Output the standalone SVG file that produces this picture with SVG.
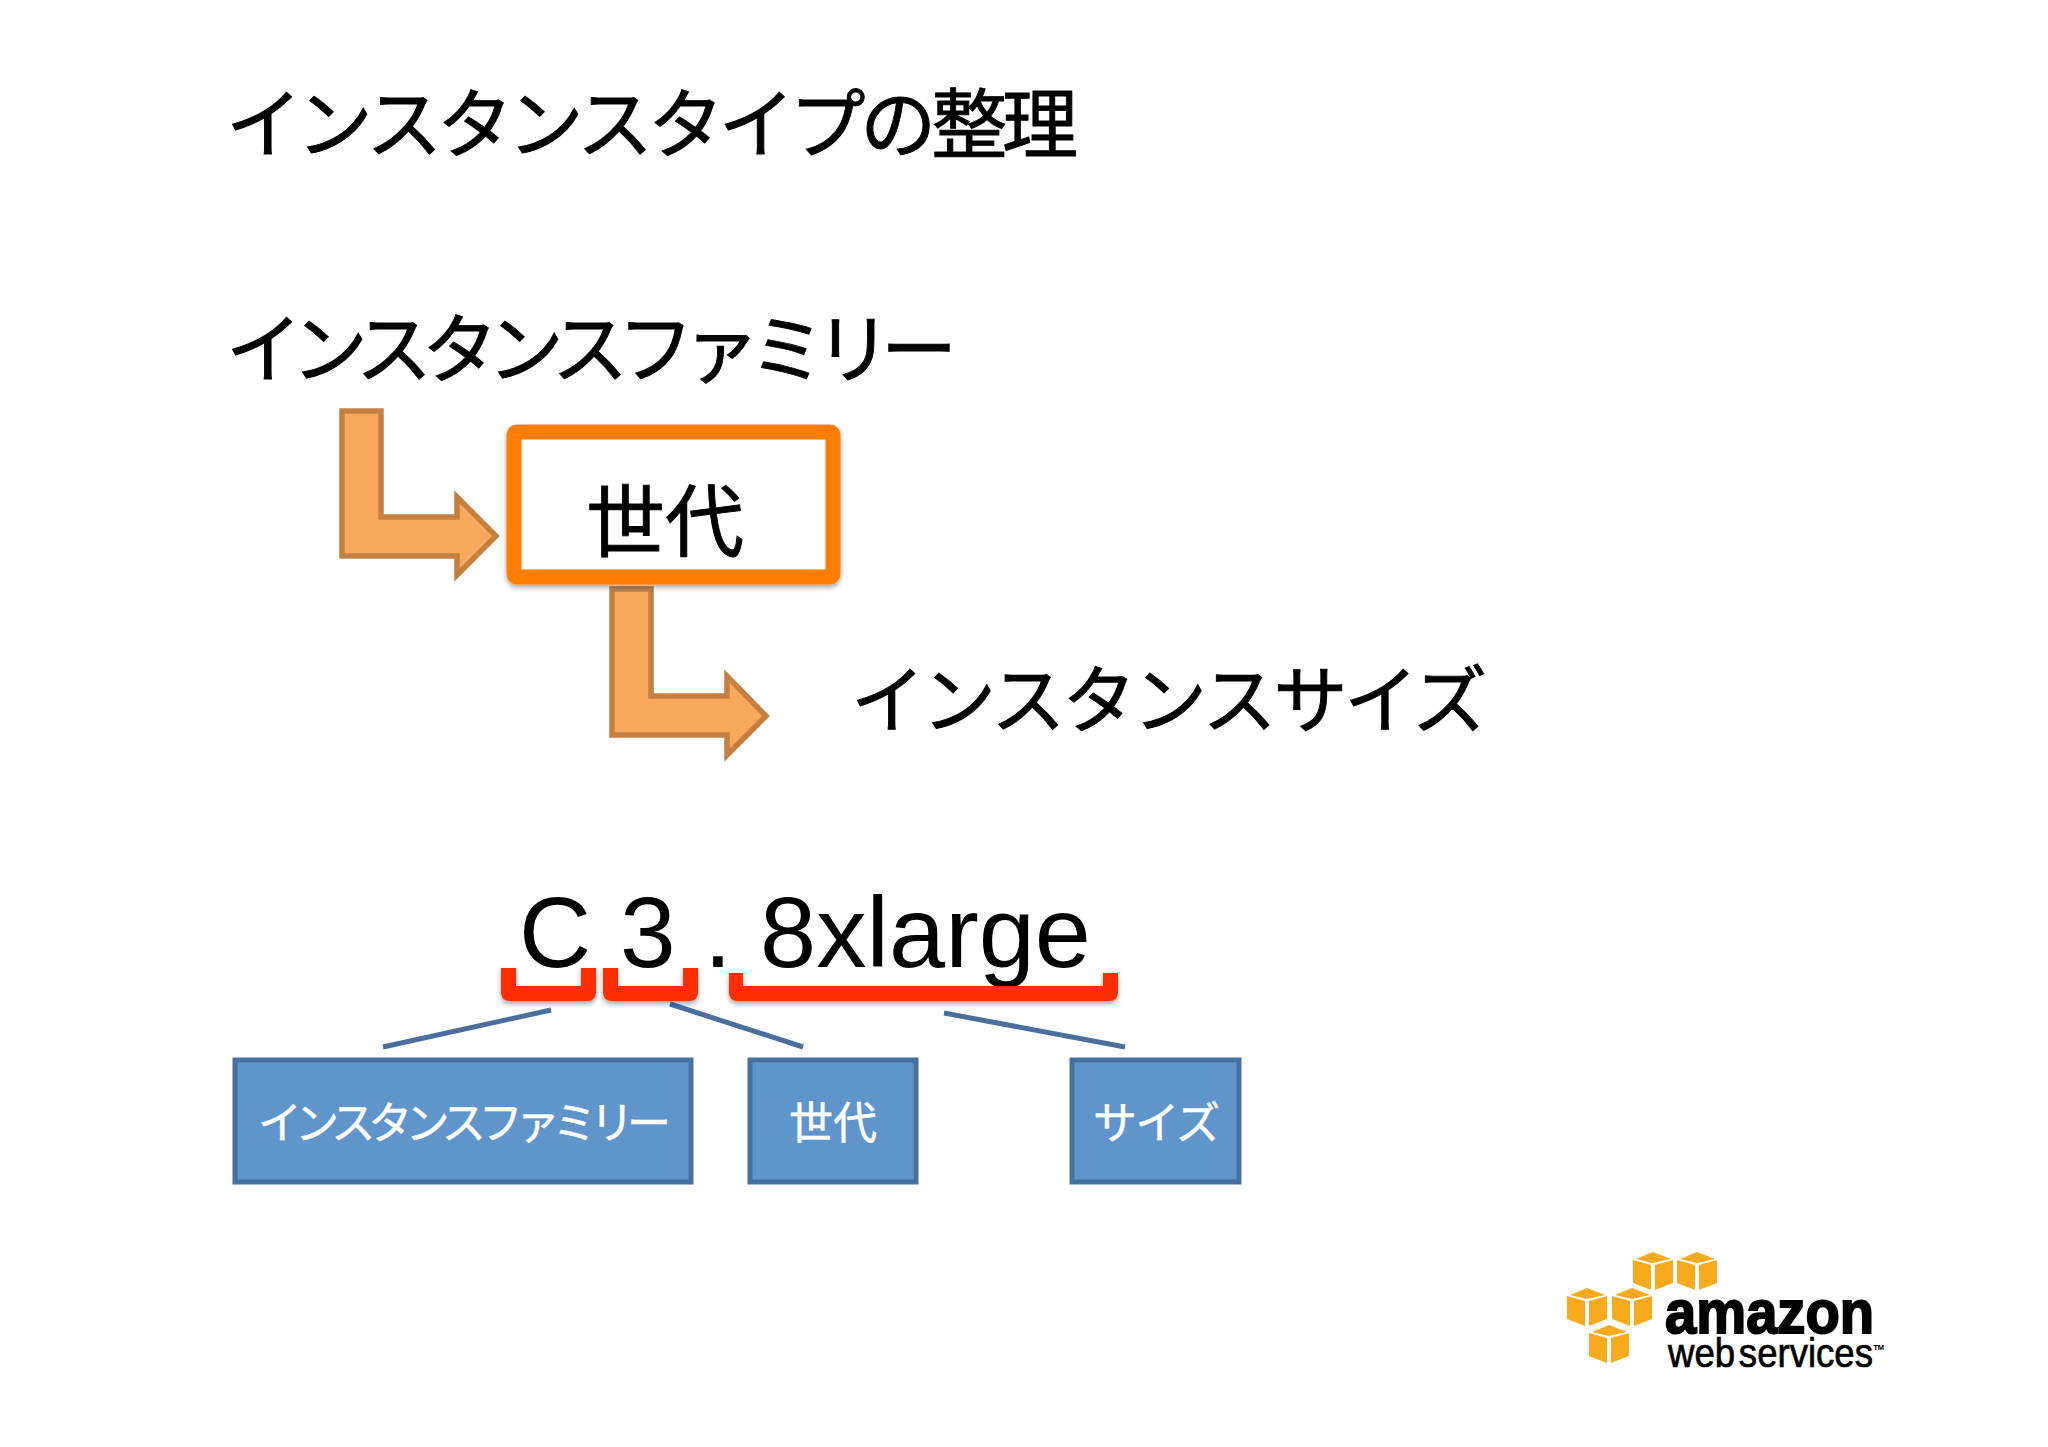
<svg xmlns="http://www.w3.org/2000/svg" xmlns:xlink="http://www.w3.org/1999/xlink" width="2048" height="1447" viewBox="0 0 2048 1447">
<style>
.jp{font-family:"Noto Sans CJK JP","Noto Sans CJK SC",sans-serif;fill:#000;stroke:#000;stroke-width:0.9}
.lat{font-family:"Liberation Sans",Arial,sans-serif;fill:#000;font-size:100px}
.arrow{fill:#f9a95b;stroke:#c58041;stroke-width:5.5}
.box{fill:#6095cb;stroke:#45709f;stroke-width:5}
.boxt{font-family:"Noto Sans CJK JP","Noto Sans CJK SC",sans-serif;fill:#fff;stroke:#fff;stroke-width:0.5;font-size:44px}
.br{fill:#ff2d06}
.ln{stroke:#4a6f9f;stroke-width:5;fill:none}
.cube{fill:#f7ab1c}
</style>
<defs>
<filter id="sh" x="-10%" y="-20%" width="120%" height="140%"><feDropShadow dx="0" dy="3" stdDeviation="2.5" flood-color="#000" flood-opacity="0.35"/></filter>
<g id="c"><polygon class="cube" points="20,0 38,7 20,11 3,7"/><polygon class="cube" points="0,8 18,13 18,38 0,31"/><polygon class="cube" points="22,13 40,8 40,31 22,38"/></g>
</defs>
<rect width="2048" height="1447" fill="#fff"/>
<g id="title"><text class="jp" x="226" y="152" font-size="76" textLength="852">インスタンスタイプの整理</text></g>
<g id="family"><text class="jp" x="226" y="377" font-size="76" textLength="731">インスタンスファミリー</text></g>
<g id="connectors">
<polygon class="arrow" points="342,411 381,411 381,517 457,517 457,497 496,536 457,575 457,556 342,556"/>
<polygon class="arrow" points="612,589 651,589 651,696 727,696 727,676 766,716 727,755 727,735 612,735"/>
<line class="ln" x1="551" y1="1010" x2="383" y2="1047"/>
<line class="ln" x1="670" y1="1004" x2="803" y2="1047"/>
<line class="ln" x1="944" y1="1013" x2="1125" y2="1047"/>
</g>
<g id="generation"><rect x="514" y="432" width="319" height="145" rx="3" fill="#fff" stroke="#ff7d05" stroke-width="15" filter="url(#sh)"/><text class="jp" x="586" y="551" font-size="79">世代</text></g>
<g id="size"><text class="jp" x="851" y="727" font-size="74" textLength="636">インスタンスサイズ</text></g>
<g id="name">
<text class="lat" x="519" y="967">C</text>
<text class="lat" x="620" y="967">3</text>
<text class="lat" x="704" y="967">.</text>
<text class="lat" x="760" y="967" textLength="331" lengthAdjust="spacingAndGlyphs">8xlarge</text>
</g>
<g id="brackets" filter="url(#sh)">
<path class="br" d="M501,968H516V986H581V968H596V992Q596,1001 587,1001H510Q501,1001 501,992Z"/>
<path class="br" d="M603,968H618V986H683V968H698V992Q698,1001 689,1001H612Q603,1001 603,992Z"/>
<path class="br" d="M729,973H743V986H1103V973H1118V992Q1118,1001 1109,1001H738Q729,1001 729,992Z"/>
</g>
<g id="box-family"><rect class="box" x="235" y="1060" width="456" height="122"/><text class="boxt" x="258" y="1139" textLength="413">インスタンスファミリー</text></g>
<g id="box-generation"><rect class="box" x="750" y="1060" width="166" height="122"/><text class="boxt" x="789" y="1139">世代</text></g>
<g id="box-size"><rect class="box" x="1072" y="1060" width="167" height="122"/><text class="boxt" x="1093" y="1139" textLength="127">サイズ</text></g>
<g id="logo">
<use xlink:href="#c" href="#c" x="1633" y="1252"/>
<use xlink:href="#c" href="#c" x="1677" y="1252"/>
<use xlink:href="#c" href="#c" x="1567" y="1288"/>
<use xlink:href="#c" href="#c" x="1612" y="1288"/>
<use xlink:href="#c" href="#c" x="1589" y="1325"/>
<text x="1665" y="1333" font-family="'Liberation Sans',Arial,sans-serif" font-weight="700" font-size="62" stroke="#000" stroke-width="2" textLength="209" lengthAdjust="spacingAndGlyphs">amazon</text>
<text x="1668" y="1367" font-family="'Liberation Sans',Arial,sans-serif" font-size="40" stroke="#000" stroke-width="0.7" word-spacing="-7" textLength="205" lengthAdjust="spacingAndGlyphs">web services</text>
<text x="1873" y="1356" font-family="'Liberation Sans',Arial,sans-serif" font-size="16" font-weight="700" textLength="12" lengthAdjust="spacingAndGlyphs">™</text>
</g>
</svg>
